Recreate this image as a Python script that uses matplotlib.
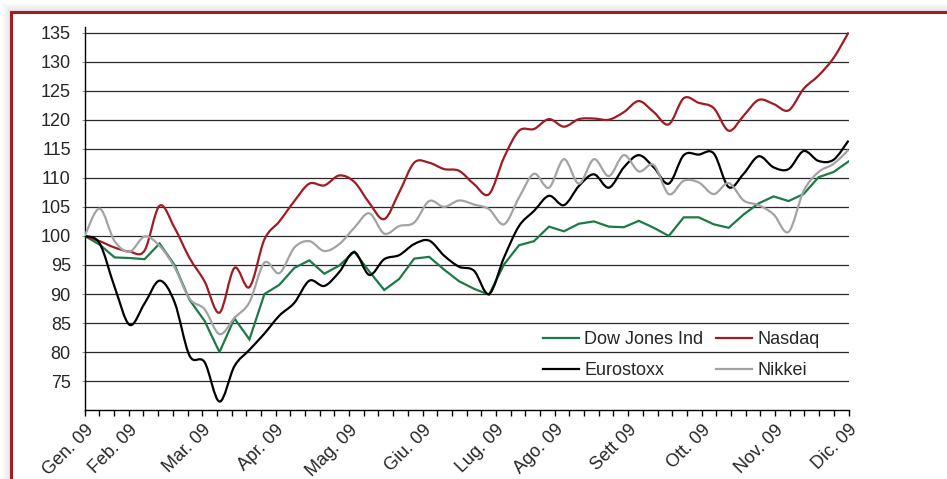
import matplotlib
matplotlib.use("Agg")
import matplotlib.pyplot as plt
from matplotlib.path import Path
from matplotlib.patches import PathPatch, Rectangle
from matplotlib.lines import Line2D
import numpy as np

plt.rcParams['font.family'] = ['Liberation Sans', 'DejaVu Sans']

# ---- data (weekly index, Gen. 2009 = 100) ----
dow = [100, 98.5, 96.3, 96.2, 96.0, 98.7, 95.0, 89.0, 85.4, 80.0,
       85.8, 82.2, 90.0, 91.6, 94.5, 95.8, 93.5, 94.9, 97.3, 93.9,
       90.7, 92.6, 96.1, 96.4, 94.2, 92.2, 90.9, 89.9, 95.1, 98.4,
       99.1, 101.6, 100.8, 102.1, 102.5, 101.6, 101.5, 102.6, 101.4, 100.0,
       103.2, 103.2, 102.0, 101.4, 103.7, 105.6, 106.8, 106.0, 107.2, 110.1,
       111.0, 112.8]
nasdaq = [100, 99.1, 98.0, 97.3, 97.5, 105.2, 101.4, 96.2, 92.2, 86.8,
          94.5, 91.2, 99.4, 102.5, 106.0, 109.0, 108.7, 110.4, 109.3, 105.7,
          102.9, 107.5, 112.6, 112.6, 111.5, 111.2, 108.9, 107.2, 113.5, 118.1,
          118.4, 120.1, 118.8, 120.1, 120.2, 120.0, 121.3, 123.2, 121.3, 119.2,
          123.7, 122.9, 122.0, 118.1, 120.7, 123.4, 122.7, 121.6, 125.3, 127.6,
          130.6, 135.0]
eurostoxx = [100, 98.7, 91.2, 84.7, 88.4, 92.3, 88.6, 79.4, 78.3, 71.5,
             77.6, 80.4, 83.2, 86.3, 88.5, 92.3, 91.4, 93.8, 97.2, 93.3,
             96.0, 96.7, 98.6, 99.2, 96.6, 94.7, 94.0, 90.0, 96.3, 101.7,
             104.3, 106.9, 105.3, 108.6, 110.6, 108.3, 111.8, 113.9, 111.8, 109.0,
             113.9, 114.0, 114.2, 108.4, 110.7, 113.7, 111.8, 111.5, 114.6, 112.9,
             113.1, 116.4]
nikkei = [100, 104.7, 99.1, 97.3, 99.9, 98.3, 94.6, 89.2, 87.4, 83.1,
          85.9, 88.6, 95.4, 93.6, 98.0, 99.1, 97.4, 98.6, 101.4, 103.9,
          100.4, 101.7, 102.3, 106.0, 105.0, 106.1, 105.4, 104.6, 102.0, 106.6,
          110.7, 108.3, 113.2, 109.0, 113.2, 110.3, 113.9, 111.1, 112.2, 107.2,
          109.5, 109.2, 107.2, 109.1, 106.1, 105.3, 103.7, 100.7, 107.7, 111.0,
          112.4, 114.8]
series_names = ["Dow Jones Ind", "Nasdaq", "Eurostoxx", "Nikkei"]
month_labels = ["Gen. 09", "Feb. 09", "Mar. 09", "Apr. 09", "Mag. 09", "Giu. 09",
                "Lug. 09", "Ago. 09", "Sett 09", "Ott. 09", "Nov. 09", "Dic. 09"]
month_ticks = [0, 3, 8, 13, 18, 23, 28, 32, 37, 42, 47, 52]
y_ticks = [75, 80, 85, 90, 95, 100, 105, 110, 115, 120, 125, 130, 135]

W, H = 947, 479
fig = plt.figure(figsize=(W / 100, H / 100), dpi=100)
fig.patch.set_facecolor('white')

def fx(px):
    return px / W

def fy(py):
    return 1 - py / H

# shadow + red frame
for k in range(9, 0, -1):
    fig.add_artist(Rectangle((fx(11 - k), -0.1), 1.2, fy(12 - k) + 0.1,
                             transform=fig.transFigure, facecolor='#b0b0b0',
                             alpha=0.035, edgecolor='none', zorder=-20))
fig.add_artist(Rectangle((fx(11), -0.1), 1.2, fy(12) + 0.1,
                         transform=fig.transFigure, facecolor='white',
                         edgecolor='#a31e24', linewidth=2.2, zorder=-10))

x0, x1, ytop, ybot = 84.7, 848.5, 26.7, 410.3
ax = fig.add_axes([fx(x0), fy(ybot), fx(x1) - fx(x0), fy(ytop) - fy(ybot)])
ax.set_facecolor('none')

n = len(dow)
xs = np.arange(n)
ax.set_xlim(0, n - 1)
ax.set_ylim(70, 136)

def smooth_path(x, y):
    x = np.asarray(x, float)
    y = np.asarray(y, float)
    pts = np.column_stack([x, y])
    verts = [pts[0]]
    codes = [Path.MOVETO]
    m = len(pts)
    for i in range(m - 1):
        p0 = pts[i - 1] if i > 0 else pts[i]
        p1 = pts[i]
        p2 = pts[i + 1]
        p3 = pts[i + 2] if i + 2 < m else pts[i + 1]
        c1 = p1 + (p2 - p0) / 6.0
        c2 = p2 - (p3 - p1) / 6.0
        verts += [c1, c2, p2]
        codes += [Path.CURVE4] * 3
    return Path(verts, codes)

lw = 1.6
colors = {"Dow Jones Ind": '#1d7a48', "Nasdaq": '#a01b22',
          "Eurostoxx": '#000000', "Nikkei": '#a3a3a3'}

# gridlines
for v in y_ticks:
    ax.axhline(v, color='#2a2a2a', linewidth=0.9, zorder=1)

ax.plot(xs, dow, color=colors["Dow Jones Ind"], linewidth=lw, zorder=3,
        solid_joinstyle='miter')
for name, vals in [("Nasdaq", nasdaq), ("Eurostoxx", eurostoxx), ("Nikkei", nikkei)]:
    ax.add_patch(PathPatch(smooth_path(xs, vals), facecolor='none',
                           edgecolor=colors[name], linewidth=lw, zorder=3))

# axes styling
for s in ['top', 'right']:
    ax.spines[s].set_visible(False)
for s in ['left', 'bottom']:
    ax.spines[s].set_color('black')
    ax.spines[s].set_linewidth(1.0)

ax.set_yticks(y_ticks)
ax.set_yticklabels([str(v) for v in y_ticks])
ax.tick_params(axis='y', length=2, width=0.6, color='#777777', pad=8,
               labelsize=13, labelcolor='#262626')

tick_pos = np.arange(53) * (n - 1) / 52.0
ax.set_xticks(tick_pos)
labels = [''] * 53
for lab, j in zip(month_labels, month_ticks):
    labels[j] = lab
ax.set_xticklabels(labels, rotation=45, ha='right', va='top',
                   rotation_mode='anchor')
ax.tick_params(axis='x', length=4, width=1.0, color='black', pad=4,
               labelsize=13, labelcolor='#262626')

# legend: row-wise order (Dow, Nasdaq / Eurostoxx, Nikkei) with 2 columns
leg_order = [series_names[0], series_names[2], series_names[1], series_names[3]]
handles = [Line2D([0], [0], color=colors[nm], linewidth=lw) for nm in leg_order]
leg = ax.legend(handles, leg_order, ncol=2, frameon=False, loc='upper left',
                bbox_to_anchor=(0.5996, 0.206), borderaxespad=0, borderpad=0,
                handlelength=2.0, handletextpad=0.3, columnspacing=0.7,
                labelspacing=0.75, fontsize=13)
for t in leg.get_texts():
    t.set_color('#262626')

fig.savefig('out.png', dpi=100)
